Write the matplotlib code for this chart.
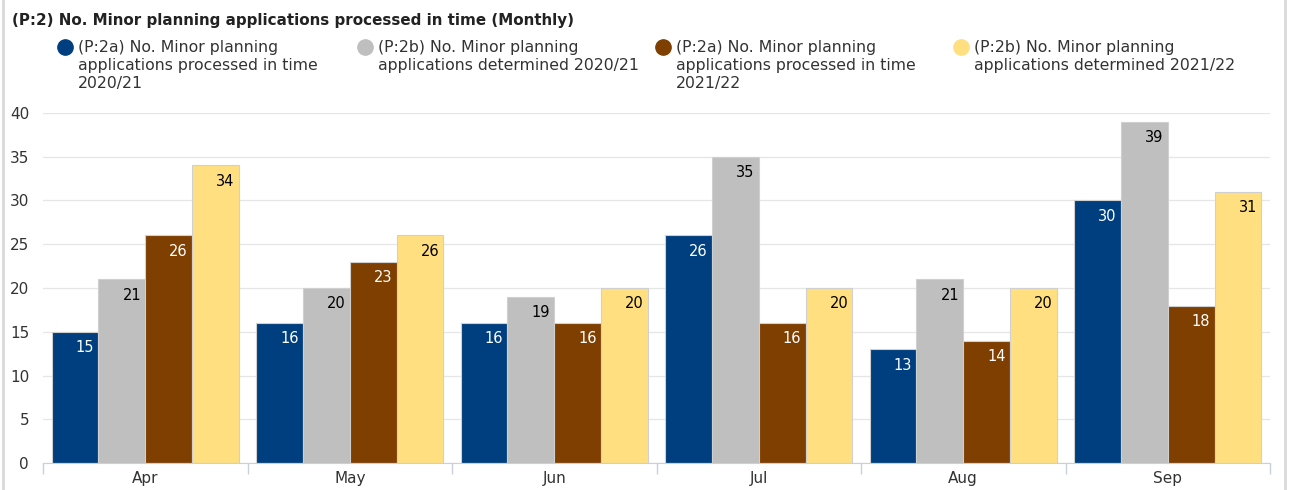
import numpy as np
import matplotlib.pyplot as plt
from matplotlib.lines import Line2D

months = ["Apr", "May", "Jun", "Jul", "Aug", "Sep"]
p2a_2021 = [15, 16, 16, 26, 13, 30]
p2b_2021 = [21, 20, 19, 35, 21, 39]
p2a_2122 = [26, 23, 16, 16, 14, 18]
p2b_2122 = [34, 26, 20, 20, 20, 31]

series = [
    ("(P:2a) No. Minor planning\napplications processed in time\n2020/21", p2a_2021, "#003F7F", "white"),
    ("(P:2b) No. Minor planning\napplications determined 2020/21", p2b_2021, "#BFBFBF", "black"),
    ("(P:2a) No. Minor planning\napplications processed in time\n2021/22", p2a_2122, "#7F3F00", "white"),
    ("(P:2b) No. Minor planning\napplications determined 2021/22", p2b_2122, "#FFDF7F", "black"),
]

plt.rcParams["font.family"] = ["DejaVu Sans"]
fig = plt.figure(figsize=(12.9, 4.9), dpi=100)
ax = fig.add_axes([43 / 1290, 27 / 490, 1227 / 1290, 350 / 490])

x = np.arange(len(months))
w = 0.229
for i, (lab, vals, col, tcol) in enumerate(series):
    pos = x + (i - 1.5) * w
    bars = ax.bar(pos, vals, width=w, color=col, edgecolor="#D0D0D0", linewidth=0.8, zorder=2)
    for b, v in zip(bars, vals):
        ax.annotate(str(v), (b.get_x() + b.get_width(), v), xytext=(-3, -6),
                    textcoords="offset points", ha="right", va="top",
                    color=tcol, fontsize=10.5, zorder=3)

ax.set_xlim(-0.5, len(months) - 0.5)
ax.set_ylim(0, 40)
ax.set_yticks(range(0, 41, 5))
ax.set_xticks(x)
ax.set_xticklabels(months)
ax.set_xticks(np.arange(-0.5, len(months)), minor=True)
ax.tick_params(axis="x", which="major", length=0, labelsize=11, labelcolor="#333333", pad=6)
ax.tick_params(axis="x", which="minor", length=8, color="#C8D0DC", width=1)
ax.tick_params(axis="y", length=0, labelsize=11, labelcolor="#333333", pad=10)
ax.grid(axis="y", color="#E6E6E6", linewidth=0.9, zorder=0)
for s in ["top", "right", "left"]:
    ax.spines[s].set_visible(False)
ax.spines["bottom"].set_color("#C8D0DC")

fig.text(12 / 1290, 1 - 20 / 490, "(P:2) No. Minor planning applications processed in time (Monthly)",
         fontsize=10.9, fontweight="bold", color="#222222", va="center")

legx = [65, 365, 663, 961]
for lx, (lab, vals, col, tcol) in zip(legx, series):
    fig.add_artist(Line2D([lx / 1290], [1 - 47 / 490], marker="o", markersize=11,
                          color=col, linestyle="none", transform=fig.transFigure))
    fig.text((lx + 13) / 1290, 1 - 40 / 490, lab, fontsize=11.3, color="#333333",
             va="top", linespacing=1.27)

# thin frame lines at the sides
fig.add_artist(Line2D([3 / 1290, 3 / 1290], [0, 1], color="#D9D9D9", lw=2, transform=fig.transFigure))
fig.add_artist(Line2D([1285 / 1290, 1285 / 1290], [0, 1], color="#D9D9D9", lw=2, transform=fig.transFigure))

fig.savefig("out.png", dpi=100)
